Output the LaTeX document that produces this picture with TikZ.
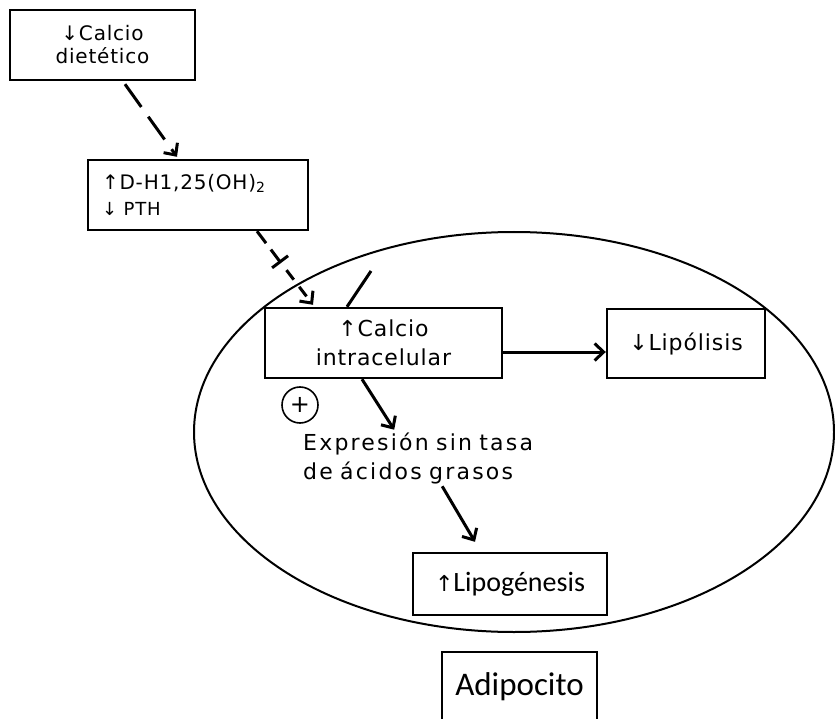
\documentclass[tikz,border=0pt]{standalone}
\usepackage{fontspec}
\setmainfont{DejaVu Sans}[LetterSpace=4]
\newfontfamily\widefont{DejaVu Sans}[LetterSpace=10,WordSpace=1.6]
\newfontfamily\arrowfont{DejaVu Sans}
\newfontfamily\calibfont{Carlito}
\usetikzlibrary{arrows.meta}
\begin{document}
\begin{tikzpicture}[x=1pt,y=-1pt]
      \tikzstyle{box}=[draw,line width=2.4pt,inner sep=0pt,align=center]
      \tikzstyle{link}=[line width=3pt,-{Straight Barb[length=9pt,width=17pt]}]
      \tikzstyle{dlink}=[link,dash pattern=on 28pt off 12pt]
      \useasboundingbox (0,0) rectangle (835,719);
      \draw[line width=2pt] (514,432) ellipse [x radius=320,y radius=200];
      \node[box,minimum width=185pt,minimum height=70pt,font=\fontsize{20}{23}\selectfont] (diet) at (102.5,45) {↓Calcio\\dietético};
      \node[box,text width=192pt,inner xsep=14pt,align=left,minimum height=70pt,font=\fontsize{20}{26}\selectfont] (vitd) at (198,195) {↑D-H1,25(OH)\textsubscript{2}\\{\fontsize{18}{26}\selectfont ↓ PTH}};
      \node[box,minimum width=237pt,minimum height=70pt,font=\fontsize{22}{29}\selectfont] (calcio) at (383.5,343) {↑Calcio\\intracelular};
      \node[box,minimum width=158pt,minimum height=69pt,font=\fontsize{22}{29}\selectfont] (lipol) at (686,343.5) {↓Lipólisis};
      \node[box,minimum width=194pt,minimum height=62pt,font=\calibfont\fontsize{28}{32}\selectfont] (lipog) at (510,584) {{\arrowfont\fontsize{22}{32}\selectfont ↑}Lipogénesis};
      \node[box,minimum width=155pt,minimum height=70pt,font=\calibfont\fontsize{33}{36}\selectfont] (adipo) at (519.5,687) {Adipocito};
      \node[draw,circle,line width=1.6pt,minimum size=36pt,inner sep=0pt,font=\fontsize{24}{24}\selectfont] (plus) at (300,405) {+};
      \node[anchor=north west,inner sep=0pt,text width=240pt,align=left,font=\widefont\fontsize{22}{29}\selectfont] (expr) at (303,432.7) {Expresión sin tasa\\de ácidos grasos};
      \coordinate (ext) at (371,271);
      \coordinate (blk) at (281,263);
      \draw[dlink] ([xshift=22.5pt,yshift=-3pt]diet.south) -- ([xshift=-21pt,yshift=2pt]vitd.north);
      \draw[line width=3pt,dash pattern=on 15pt off 8pt,-{Bar[width=20pt]}] ([xshift=59pt]vitd.south) -- (blk);
      \draw[link,dash pattern=on 12pt off 9pt,dash phase=12pt] (blk) -- ([xshift=-70.5pt,yshift=2pt]calcio.north);
      \draw[line width=3pt] (ext) -- ([xshift=-36.5pt]calcio.north);
      \draw[link] ([yshift=-9pt]calcio.east) -- ([yshift=-8.5pt]lipol.west);
      \draw[link] ([xshift=-21.5pt]calcio.south) -- ([xshift=-29pt,yshift=3pt]expr.north);
      \draw[link] ([xshift=19pt,yshift=-2pt]expr.south) -- ([xshift=-35pt,yshift=10pt]lipog.north);
\end{tikzpicture}
\end{document}
